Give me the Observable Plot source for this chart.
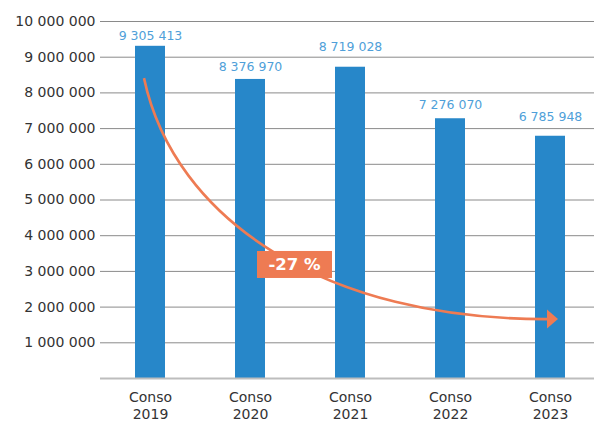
<!DOCTYPE html>
<html><head><meta charset="utf-8">
<script src="https://cdn.jsdelivr.net/npm/d3@7"></script>
<script src="https://cdn.jsdelivr.net/npm/@observablehq/plot@0.6"></script>
<style>body{margin:0;background:#fff;overflow:hidden;}</style>
</head><body><div id="chart"></div>
<script>
// ---- data ----
const categories = ["Conso 2019", "Conso 2020", "Conso 2021", "Conso 2022", "Conso 2023"];
const values = [9305413, 8376970, 8719028, 7276070, 6785948];
const yTicks = [1000000, 2000000, 3000000, 4000000, 5000000, 6000000, 7000000, 8000000, 9000000, 10000000];
const arrowFrom = ["Conso 2019", 8400000];
const arrowTo = ["Conso 2023", 1650000];
const changeText = "-27 %";
const changeBetween = ["Conso 2020", "Conso 2021"];
const changeValue = 3180000;

// ---- layout / style ----
const labelDy = [-10.5, -12.5, -20, -13.5, -19];
const ORANGE = "#ee7b53";
const PAD_INNER = 0.7;

const data = categories.map((c, i) => ({cat: c, value: values[i]}));
const fmt = v => d3.format(",")(v).replace(/,/g, " ");

function annotation(index, scales) {
  const x = scales.x, y = scales.y;
  const step = x(categories[1]) - x(categories[0]);
  const bw = step * (1 - PAD_INNER);
  const cx = c => x(c) + bw / 2;
  const x0 = cx(arrowFrom[0]) - 6, y0 = y(arrowFrom[1]);
  const x3 = cx(arrowTo[0]) - 2, y3 = y(arrowTo[1]);
  const dx = x3 - x0, dy = y3 - y0;
  const c1x = x0 + 0.075 * dx, c1y = y0 + 0.59 * dy;
  const c2x = x0 + 0.45 * dx, c2y = y0 + 1.004 * dy;
  const g = d3.create("svg:g");
  g.append("path")
    .attr("d", `M${x0},${y0}C${c1x},${c1y} ${c2x},${c2y} ${x3},${y3}`)
    .attr("fill", "none").attr("stroke", ORANGE).attr("stroke-width", 2.6);
  g.append("path")
    .attr("d", `M${x3 - 1},${y3 - 9.5}L${x3 + 10},${y3}L${x3 - 1},${y3 + 9.5}Z`)
    .attr("fill", ORANGE);
  const lx = (cx(changeBetween[0]) + cx(changeBetween[1])) / 2 - 5.5;
  const ly = y(changeValue);
  g.append("rect")
    .attr("x", lx - 37.5).attr("y", ly - 13.5).attr("width", 75).attr("height", 27)
    .attr("fill", ORANGE);
  g.append("text")
    .attr("x", lx).attr("y", ly).attr("dy", "0.36em")
    .attr("text-anchor", "middle")
    .attr("fill", "#fff").attr("font-weight", "bold").attr("font-size", 16.5)
    .text(changeText);
  return g.node();
}

const chart = Plot.plot({
  width: 594,
  height: 421,
  marginLeft: 100,
  marginRight: 0,
  marginTop: 21,
  marginBottom: 43,
  style: {fontFamily: "DejaVu Sans", background: "#fff", overflow: "visible"},
  x: {domain: categories, range: [100, 600], paddingInner: PAD_INNER, paddingOuter: 0.35},
  y: {domain: [0, 10000000]},
  marks: [
    Plot.ruleY(yTicks, {stroke: "#8a8a8a", strokeWidth: 1}),
    Plot.barY(data, {x: "cat", y: "value", fill: "#2787c9"}),
    Plot.ruleY([0], {stroke: "#bdbdbd", strokeWidth: 2}),
    ...data.map((d, i) => Plot.text([d], {x: "cat", y: "value", text: e => fmt(e.value), dy: labelDy[i], fill: "#4f9fd9", fontSize: 12.5})),
    Plot.axisY(yTicks, {tickFormat: fmt, tickSize: 0, tickPadding: 5, fontSize: 14, fill: "#333", label: null, style: {letterSpacing: "0.8px"}}),
    Plot.axisX({tickFormat: d => d.replace(" ", "\n"), tickSize: 0, tickPadding: 12, fontSize: 14, lineHeight: 1.2, fill: "#333", label: null, style: {letterSpacing: "0.6px"}}),
    annotation
  ]
});
document.getElementById("chart").appendChild(chart);
</script>
</body></html>
